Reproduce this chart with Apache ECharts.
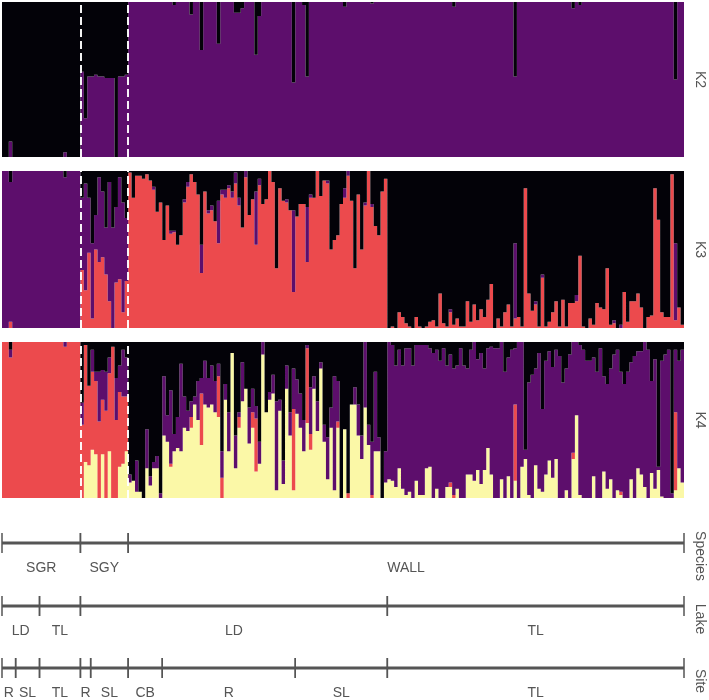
<!DOCTYPE html>
<html>
<head>
<meta charset="utf-8">
<script src="https://cdn.jsdelivr.net/npm/echarts/dist/echarts.min.js"></script>
<style>
  html, body { margin: 0; padding: 0; background: #fff; }
  #main { width: 709px; height: 700px; }
</style>
</head>
<body>
<div id="main"></div>
<script>
// ancestry proportions (%) per individual, bottom cluster first
// K = 2 : purple (bottom), black is the rest
const k2Purple = [
  0,0,10,0,0,0,0,0,0,0, 0,0,0,0,0,0,0,0,3,0,
  0,0,0,55,25,52,52,53,52,52, 51,51,51,0,52,52,53,100,100,100,
  100,100,100,100,100,100,100,100,100,100, 98,100,100,100,100,92,100,100,69,100,
  100,100,100,73,100,100,100,100,93,93, 96,100,100,100,66,91,100,100,100,100,
  100,100,100,100,100,48,100,100,98,52, 100,100,100,100,100,100,100,100,100,100,
  97,100,100,100,100,100,100,100,99,100, 100,100,100,100,100,100,100,100,100,100,
  100,100,100,100,100,100,100,100,100,100, 100,100,97,100,100,100,100,100,100,100,
  100,100,100,100,100,100,100,100,100,100, 52,100,100,100,100,100,100,100,100,100,
  100,100,100,100,100,100,100,96,100,98, 100,100,100,100,100,100,100,100,100,100,
  100,100,100,100,100,100,100,100,100,100, 100,100,100,100,100,100,100,50,100,100
];

// K = 3 : red (bottom), purple, black is the rest
const k3Red = [
  0,0,4,0,0,0,0,0,0,0, 0,0,0,0,0,0,0,0,0,0,
  0,0,0,37,24,48,6,50,42,45, 34,17,0,29,31,10,30,99,83,97,
  97,95,98,94,88,74,80,56,78,60, 61,53,59,80,90,98,93,85,35,87,
  73,75,68,54,85,83,89,83,92,78, 64,96,72,82,53,91,79,82,100,93,
  38,89,81,80,75,23,71,79,79,42, 83,83,100,84,94,92,50,56,59,79,
  83,97,81,38,85,50,78,100,77,65, 59,87,95,0,1,0,10,7,3,1,
  0,7,1,0,1,4,5,1,22,3, 1,10,2,6,1,1,17,4,15,5,
  12,7,18,28,0,6,1,10,15,1, 6,7,1,89,22,11,15,1,32,1,
  4,10,17,1,18,1,16,16,17,46, 1,0,6,2,16,13,12,38,2,3,
  0,0,23,4,17,17,22,13,0,7, 8,89,69,10,7,7,98,5,13,2
];
const k3Purple = [
  100,100,89,100,100,100,100,100,100,100, 100,100,100,100,100,100,100,100,96,100,
  100,100,100,46,68,35,48,22,54,42, 30,76,64,48,65,70,40,0,0,0,
  0,0,0,0,2,0,0,0,0,2, 1,0,0,2,3,0,0,0,18,0,
  2,3,0,27,3,5,2,4,7,5, 0,4,0,0,34,4,0,0,0,0,
  0,0,0,2,0,52,0,0,0,35, 2,0,0,0,0,2,0,0,0,0,
  6,3,0,0,0,0,2,0,2,0, 0,0,0,0,0,0,0,0,0,0,
  0,0,0,0,0,0,0,0,0,0, 0,2,0,0,0,0,0,0,0,0,
  0,0,0,0,0,0,0,0,0,0, 48,0,0,0,0,0,2,0,2,0,
  0,0,0,0,0,0,0,0,4,0, 0,0,0,0,0,0,0,0,0,2,
  0,2,0,0,0,0,0,0,0,0, 0,0,0,0,0,0,0,49,0,0
];

// K = 4 : yellow (bottom), red, purple, black is the rest
const k4Yellow = [
  0,0,0,0,0,0,0,0,0,0, 0,0,0,0,0,0,0,0,0,0,
  0,0,0,0,23,21,31,28,0,28, 0,30,0,0,20,22,30,10,11,4,
  4,0,19,8,19,19,0,40,36,20, 30,32,30,45,43,45,60,50,34,60,
  58,60,55,52,0,63,30,93,19,45, 62,70,35,45,17,22,92,55,63,67,
  5,56,9,70,40,5,54,45,30,48, 31,70,43,83,36,12,45,5,45,0,
  44,0,60,60,40,25,58,34,0,30, 30,0,10,12,11,7,19,6,2,4,
  0,11,2,2,19,20,0,6,0,0, 7,7,0,6,0,0,15,15,11,18,
  9,18,32,15,0,0,12,0,14,0, 11,0,20,25,2,0,21,6,4,15,
  24,13,25,0,0,5,0,25,53,2, 0,0,0,14,0,0,17,6,12,0,
  5,2,0,0,12,0,19,15,7,0, 16,6,18,1,0,0,0,5,19,10
];
const k4Red = [
  100,100,90,100,100,100,100,100,100,100, 100,100,100,100,100,100,100,100,97,100,
  100,100,100,47,75,51,50,47,49,35, 56,50,97,50,48,43,35,0,0,0,
  0,0,0,0,0,0,0,0,0,2, 0,0,0,0,0,7,0,0,33,0,
  0,0,0,26,13,0,0,0,0,7, 0,0,0,10,34,0,0,0,0,0,
  0,0,0,0,0,52,0,0,0,48, 10,0,0,0,0,0,0,0,4,0,
  0,3,0,0,0,0,0,0,2,0, 0,0,0,0,0,0,0,0,0,0,
  0,0,0,0,0,0,0,0,0,0, 0,3,2,0,0,0,0,0,0,0,
  0,0,0,0,0,0,0,0,0,0, 49,0,0,0,0,0,0,0,0,0,
  0,0,0,0,0,0,0,4,0,0, 0,0,0,0,0,0,0,0,0,0,
  0,2,0,0,0,0,0,0,0,0, 0,0,0,0,0,0,0,50,0,0
];
const k4Purple = [
  0,0,5,0,0,0,0,0,0,0, 0,0,0,0,0,0,0,0,3,0,
  0,0,0,14,0,0,14,6,32,19, 25,10,0,27,17,30,25,5,0,20,
  0,0,25,6,4,8,3,38,17,47, 11,20,56,20,13,10,5,25,10,28,
  19,25,20,8,17,10,25,0,21,3, 25,0,23,15,8,14,8,0,5,12,
  57,7,15,15,15,26,22,22,20,2, 30,8,19,4,11,27,13,73,26,0,
  0,0,0,11,20,15,42,13,34,51, 9,0,20,88,87,78,76,79,94,92,
  85,87,96,96,79,76,93,89,88,96, 78,82,81,79,96,85,68,80,89,71,
  84,65,64,82,96,96,88,81,76,95, 36,100,80,6,72,79,62,87,53,73,
  70,71,70,91,74,78,92,71,47,96, 95,88,88,76,81,96,61,67,71,92,
  90,77,73,81,75,91,75,79,93,95, 59,83,2,87,92,95,3,40,69,85
];

// sample groups: [label, first individual, end (exclusive)]
const speciesGroups = [['SGR', 0, 23], ['SGY', 23, 37], ['WALL', 37, 200]];
const lakeGroups = [['LD', 0, 11], ['TL', 11, 23], ['LD', 23, 113], ['TL', 113, 200]];
const siteGroups = [
  ['R', 0, 4], ['SL', 4, 11], ['TL', 11, 23], ['R', 23, 26], ['SL', 26, 37],
  ['CB', 37, 47], ['R', 47, 86], ['SL', 86, 113], ['TL', 113, 200]
];
const panelNames = ['K2', 'K3', 'K4'];
const rowNames = ['Species', 'Lake', 'Site'];

const C = { black: '#030208', purple: '#5d0e6c', red: '#ec4a4d', yellow: '#fbf8a7' };
const TEXT = '#555';
const FONT = '"Liberation Sans", Arial, sans-serif';

// each individual's proportions add up to 100, black takes what is left
const rest = (...parts) => parts[0].map((_, i) => Math.max(0, 100 - parts.reduce((s, p) => s + p[i], 0)));
const individuals = k2Purple.map((_, i) => String(i + 1));
const nInd = individuals.length;

const panels = [
  [['purple', k2Purple], ['black', rest(k2Purple)]],
  [['red', k3Red], ['purple', k3Purple], ['black', rest(k3Red, k3Purple)]],
  [['yellow', k4Yellow], ['red', k4Red], ['purple', k4Purple], ['black', rest(k4Yellow, k4Red, k4Purple)]]
];
const speciesBreaks = speciesGroups.slice(1).map(g => g[1]);

const panelBoxes = [{ top: 2, height: 155 }, { top: 171, height: 157 }, { top: 342, height: 156 }];
const rowBoxes = [{ top: 533 }, { top: 596 }, { top: 658 }];
const rowGroups = [speciesGroups, lakeGroups, siteGroups];

const hidden = { axisLine: { show: false }, axisTick: { show: false }, axisLabel: { show: false }, splitLine: { show: false } };
const nameStyle = { color: TEXT, fontSize: 14, fontFamily: FONT };

const grid = [], xAxis = [], yAxis = [], series = [];

panelBoxes.forEach((b, g) => {
  // outerBoundsMode none: keep the plot width even though the side titles run off the page
  grid.push({ left: 2, width: 682, top: b.top, height: b.height, outerBoundsMode: 'none', containLabel: false });
  xAxis.push({ type: 'category', gridIndex: g, data: individuals, show: false, boundaryGap: true });
  yAxis.push(Object.assign({
    type: 'value', gridIndex: g, min: 0, max: 100, position: 'right',
    name: panelNames[g], nameLocation: 'middle', nameRotate: -90, nameGap: 9, nameTextStyle: nameStyle
  }, hidden));
});
// value axes over the panels, used for the dashed species dividers
panelBoxes.forEach((b, g) => {
  xAxis.push({ type: 'value', gridIndex: g, min: 0, max: nInd, show: false });
});
rowBoxes.forEach((b, r) => {
  grid.push({ left: 2, width: 682, top: b.top, height: 46, outerBoundsMode: 'none', containLabel: false });
  xAxis.push({ type: 'value', gridIndex: 3 + r, min: 0, max: nInd, show: false });
  yAxis.push(Object.assign({
    type: 'value', gridIndex: 3 + r, min: 0, max: 46, inverse: true, position: 'right',
    name: rowNames[r], nameLocation: 'middle', nameRotate: -90, nameGap: 9, nameTextStyle: nameStyle
  }, hidden));
});

panels.forEach((layers, g) => {
  layers.forEach(([col, data]) => {
    // large mode fills each layer as one path, so neighbouring bars leave no seams
    series.push({
      type: 'bar', xAxisIndex: g, yAxisIndex: g, stack: 'q' + g, data: data,
      barCategoryGap: '0%', silent: true, large: true, largeThreshold: 50,
      itemStyle: { color: C[col] }
    });
  });
  series.push({
    type: 'line', xAxisIndex: 3 + g, yAxisIndex: g, data: [], silent: true, symbol: 'none',
    markLine: {
      silent: true, symbol: ['none', 'none'], label: { show: false },
      lineStyle: { color: '#ffffff', type: [8, 4], width: 2, opacity: 0.95 },
      emphasis: { disabled: true },
      data: speciesBreaks.map(v => ({ xAxis: v }))
    }
  });
});

// bracket rows: line, end ticks and group label
rowGroups.forEach((groups, r) => {
  series.push({
    type: 'custom', coordinateSystem: 'cartesian2d', xAxisIndex: 6 + r, yAxisIndex: 3 + r,
    silent: true, encode: { x: [0, 1] },
    data: groups.map(g => [g[1], g[2]]),
    renderItem: (params, api) => {
      const s = api.coord([api.value(0), 10]);
      const e = api.coord([api.value(1), 10]);
      const m = api.coord([(api.value(0) + api.value(1)) / 2, 35]);
      const stroke = '#555';
      return {
        type: 'group', children: [
          { type: 'line', shape: { x1: s[0], y1: s[1], x2: e[0], y2: e[1] }, style: { stroke, lineWidth: 3 } },
          { type: 'line', shape: { x1: s[0], y1: s[1] - 10, x2: s[0], y2: s[1] + 10 }, style: { stroke, lineWidth: 1.5 } },
          { type: 'line', shape: { x1: e[0], y1: e[1] - 10, x2: e[0], y2: e[1] + 10 }, style: { stroke, lineWidth: 1.5 } },
          { type: 'text', style: { text: groups[params.dataIndex][0], x: m[0], y: m[1], align: 'center', verticalAlign: 'middle', fill: TEXT, font: '14px ' + FONT } }
        ]
      };
    }
  });
});

const chart = echarts.init(document.getElementById('main'), null, { renderer: 'canvas' });
chart.setOption({ animation: false, backgroundColor: '#fff', grid, xAxis, yAxis, series });
</script>
</body>
</html>
